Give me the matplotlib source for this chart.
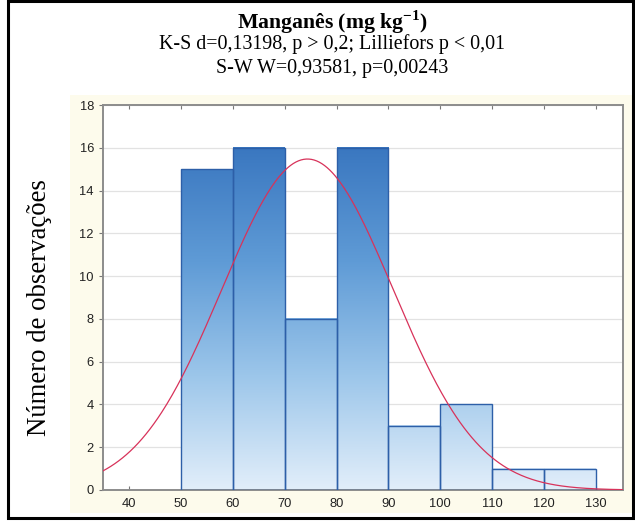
import matplotlib.pyplot as plt
import numpy as np
from matplotlib.patches import Rectangle
from matplotlib.colors import LinearSegmentedColormap

plt.rcParams['mathtext.fontset'] = 'custom'
plt.rcParams['mathtext.rm'] = 'Liberation Serif'
plt.rcParams['mathtext.bf'] = 'Liberation Serif:bold'

# Histograma de manganês com curva normal ajustada
limites = [50, 60, 70, 80, 90, 100, 110, 120, 130]
contagens = [15, 16, 8, 16, 3, 4, 1, 1]
media = 74.4
desvio = 16.5
n_obs = 64
largura_classe = 10

titulo = 'Manganês (mg kg$^{\\mathbf{-1}}$)'
linha2 = 'K-S d=0,13198, p > 0,2; Lilliefors p < 0,01'
linha3 = 'S-W W=0,93581, p=0,00243'
rotulo_y = 'Número de observações'
xticks = [40, 50, 60, 70, 80, 90, 100, 110, 120, 130]
yticks = [0, 2, 4, 6, 8, 10, 12, 14, 16, 18]

fig = plt.figure(figsize=(6.35, 5.24), dpi=100)
fig.patch.set_facecolor('white')

# painel creme atrás do gráfico
fundo = fig.add_axes([70 / 635, 1 - 513 / 524, 562 / 635, 418 / 524], zorder=-1)
fundo.set_facecolor('#fdfbec')
fundo.set_xticks([])
fundo.set_yticks([])
for s in fundo.spines.values():
    s.set_visible(False)

# moldura preta
fig.patches.append(Rectangle((8 / 635, 1 - 518 / 524), 625 / 635, 517 / 524,
                             transform=fig.transFigure, facecolor='none',
                             edgecolor='black', linewidth=2.2, zorder=5))

ax = fig.add_axes([103 / 635, 1 - 490 / 524, 520 / 635, 385 / 524], zorder=1)
ax.set_facecolor('white')

cmap = LinearSegmentedColormap.from_list('azul', ['#e2eefa', '#9cc6ea', '#5f9bd6', '#3a77c0'])
grad = np.linspace(0, 1, 256).reshape(-1, 1)

for i, c in enumerate(contagens):
    x0, x1 = limites[i], limites[i + 1]
    # gradiente vertical em coordenadas de dados (0 a 16)
    ax.imshow(grad[: int(256 * c / 16)], extent=[x0, x1, 0, c], origin='lower',
              aspect='auto', cmap=cmap, vmin=0, vmax=1, zorder=2,
              interpolation='bilinear')
    ax.add_patch(Rectangle((x0, 0), x1 - x0, c, facecolor='none',
                           edgecolor='#2d5fa8', linewidth=1.0, zorder=3))
ax.set_xlim(35, 135.2)
ax.set_ylim(0, 18)

x = np.linspace(35, 135.2, 400)
y = n_obs * largura_classe / (desvio * np.sqrt(2 * np.pi)) * np.exp(-0.5 * ((x - media) / desvio) ** 2)
ax.plot(x, y, color='#d8325a', linewidth=0.9, zorder=4)

ax.set_xticks(xticks)
ax.set_yticks(yticks)
ax.grid(axis='y', color='#e2e2e2', linewidth=0.9, zorder=1)
ax.set_axisbelow(True)
for s in ax.spines.values():
    s.set_color('#8c8c8c')
    s.set_linewidth(1.4)
ax.tick_params(axis='both', labelsize=9.3, labelcolor='#222222', color='#777777',
               length=3, top=True, right=True)
ax.tick_params(axis='y', direction='out', right=False)
ax.tick_params(axis='x', direction='in', pad=6)
for lab in ax.get_xticklabels() + ax.get_yticklabels():
    lab.set_family('Liberation Sans')

fig.text(40 / 635, 1 - 308 / 524, rotulo_y, rotation=90, ha='center', va='center',
         family='Liberation Serif', fontsize=19.3)

fig.text(332 / 635, 1 - 22 / 524, titulo, ha='center', va='center',
         family='Liberation Serif', fontsize=15.7, fontweight='bold')
fig.text(332 / 635, 1 - 44 / 524, linha2, ha='center', va='center',
         family='Liberation Serif', fontsize=14.4)
fig.text(332 / 635, 1 - 68 / 524, linha3, ha='center', va='center',
         family='Liberation Serif', fontsize=14.4)

fig.savefig('out.png', dpi=100)
